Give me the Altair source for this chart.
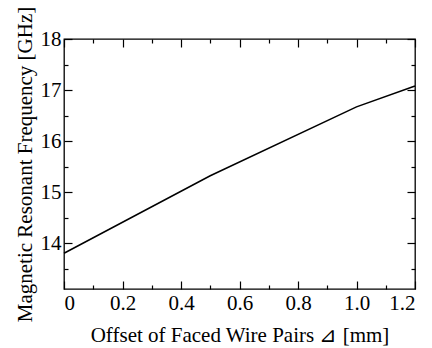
import altair as alt
import pandas as pd

offset_mm = [0.0, 0.5, 1.0, 1.2]
freq_ghz = [13.80, 15.32, 16.67, 17.08]

x_major = [0.0, 0.2, 0.4, 0.6, 0.8, 1.0, 1.2]
x_minor = [0.1, 0.3, 0.5, 0.7, 0.9, 1.1]
y_major = [14, 15, 16, 17, 18]
y_minor = [13.5, 14.5, 15.5, 16.5, 17.5]

df = pd.DataFrame({"x": offset_mm, "y": freq_ghz})

FONT = "Liberation Serif"
xscale = alt.Scale(domain=[0, 1.2], nice=False, zero=False)
yscale = alt.Scale(domain=[13.1, 18], nice=False, zero=False)

def tick_axis(orient, values, size, labels=False, title=None, **kw):
    args = dict(
        orient=orient, values=values, tickSize=size, offset=-size,
        domain=False, grid=False, labels=labels, tickColor="black",
        tickWidth=1.2, title=title,
    )
    args.update(kw)
    return alt.Axis(**args)

base = alt.Chart(df)

main = base.mark_line(color="black", strokeWidth=1.5).encode(
    x=alt.X("x:Q", scale=xscale, axis=tick_axis(
        "bottom", x_major, 8, labels=True,
        title="Offset of Faced Wire Pairs ⊿ [mm]",
        labelExpr="datum.value == 0 ? '0' : format(datum.value, '.1f')",
        labelPadding=3, titlePadding=11)),
    y=alt.Y("y:Q", scale=yscale, axis=tick_axis(
        "left", y_major, 8, labels=True,
        title="Magnetic Resonant Frequency [GHz]",
        format="d", labelPadding=3, titlePadding=5)),
)

minor_bl = base.mark_line(opacity=0).encode(
    x=alt.X("x:Q", scale=xscale, axis=tick_axis("bottom", x_minor, 4)),
    y=alt.Y("y:Q", scale=yscale, axis=tick_axis("left", y_minor, 4)),
)
major_tr = base.mark_line(opacity=0).encode(
    x=alt.X("x:Q", scale=xscale, axis=tick_axis("top", x_major, 8)),
    y=alt.Y("y:Q", scale=yscale, axis=tick_axis("right", y_major, 8)),
)
minor_tr = base.mark_line(opacity=0).encode(
    x=alt.X("x:Q", scale=xscale, axis=tick_axis("top", x_minor, 4)),
    y=alt.Y("y:Q", scale=yscale, axis=tick_axis("right", y_minor, 4)),
)

chart = alt.layer(main, minor_bl, major_tr, minor_tr).resolve_axis(
    x="independent", y="independent"
).properties(
    width=351, height=250,
    autosize=alt.AutoSizeParams(type="none"),
    padding={"left": 56, "top": 31, "right": 9, "bottom": 59},
    background="white",
).configure(
    font=FONT
).configure_axis(
    labelFont=FONT, labelFontSize=21, labelColor="black",
    titleFont=FONT, titleFontSize=21, titleFontWeight="normal",
    titleColor="black",
).configure_view(stroke="black", strokeWidth=1.3)

chart.save("out.html", embed_options={"renderer": "svg", "actions": False})
